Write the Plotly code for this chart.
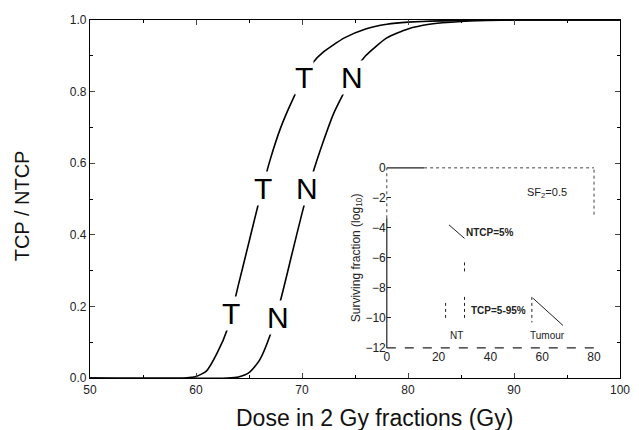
import plotly.graph_objects as go

# ---- main chart data ----
dose_T = [50, 59, 60, 61, 62, 63, 64, 65, 66, 67, 68, 69, 70, 71, 72, 74, 76, 78, 80, 85, 90, 100]
tcp_T = [0, 0.0, 0.004, 0.02, 0.07, 0.14, 0.26, 0.38, 0.50, 0.61, 0.70, 0.77, 0.83, 0.88, 0.91, 0.95, 0.975, 0.988, 0.994, 0.999, 1.0, 1.0]

dose_N = [50, 63, 64, 65, 66, 67, 68, 69, 70, 71, 72, 73, 74, 75, 76, 78, 80, 82, 85, 90, 100]
ntcp_N = [0, 0.0, 0.003, 0.015, 0.05, 0.12, 0.22, 0.34, 0.46, 0.57, 0.66, 0.74, 0.80, 0.86, 0.90, 0.95, 0.975, 0.988, 0.996, 1.0, 1.0]

label_T_x = [63.3, 66.3, 70.2]
label_T_y = [0.18, 0.53, 0.84]
label_N_x = [67.7, 70.5, 74.7]
label_N_y = [0.17, 0.53, 0.84]

x_ticks = [50, 60, 70, 80, 90, 100]
y_ticks = [0.0, 0.2, 0.4, 0.6, 0.8, 1.0]

x_title = "Dose in 2 Gy fractions (Gy)"
y_title = "TCP / NTCP"

# ---- inset data ----
inset_x_ticks = [0, 20, 40, 60, 80]
inset_y_ticks = [0, -2, -4, -6, -8, -10, -12]
ntcp_seg_x = [24.0, 30.0]
ntcp_seg_y = [-3.8, -4.7]
nt_dot1_x = [30, 30]
nt_dot1_y = [-6.3, -7.0]
nt_dot2_x = [30, 30]
nt_dot2_y = [-8.6, -10.1]
nt_dot3_x = [22.7, 22.7]
nt_dot3_y = [-9.0, -10.2]
tum_dot_x = [56, 56]
tum_dot_y = [-8.6, -10.3]
tum_seg_x = [56.5, 68]
tum_seg_y = [-8.7, -10.5]

FONT = "Liberation Sans, Arial, sans-serif"

fig = go.Figure()
fig.add_trace(go.Scatter(x=dose_T, y=tcp_T, mode="lines",
                         line=dict(color="black", width=1.6, shape="spline", smoothing=0.6),
                         showlegend=False, hoverinfo="skip"))
fig.add_trace(go.Scatter(x=dose_N, y=ntcp_N, mode="lines",
                         line=dict(color="black", width=1.6, shape="spline", smoothing=0.6),
                         showlegend=False, hoverinfo="skip"))

# inset marks
def seg(x, y, dash, width=1):
    fig.add_trace(go.Scatter(x=x, y=y, xaxis="x2", yaxis="y2", mode="lines",
                             line=dict(color="#222", width=width, dash=dash),
                             showlegend=False, hoverinfo="skip"))

seg(ntcp_seg_x, ntcp_seg_y, "solid")
seg(nt_dot1_x, nt_dot1_y, "dot")
seg(nt_dot2_x, nt_dot2_y, "dot")
seg(nt_dot3_x, nt_dot3_y, "dot")
seg(tum_dot_x, tum_dot_y, "dot")
seg(tum_seg_x, tum_seg_y, "solid")

annotations = []
for x, y in zip(label_T_x, label_T_y):
    annotations.append(dict(x=x, y=y, xref="x", yref="y", text="T", showarrow=False,
                            font=dict(family=FONT, size=30, color="black"),
                            bgcolor="white", borderpad=0))
for x, y in zip(label_N_x, label_N_y):
    annotations.append(dict(x=x, y=y, xref="x", yref="y", text="N", showarrow=False,
                            font=dict(family=FONT, size=30, color="black"),
                            bgcolor="white", borderpad=0))

inset_texts = [
    (62, -1.7, "SF<sub>2</sub>=0.5", 11),
    (40, -4.3, "<b>NTCP=5%</b>", 10),
    (43, -9.5, "<b>TCP=5-95%</b>", 10),
    (27, -11.2, "NT", 10),
    (62, -11.2, "Tumour", 10),
]
for x, y, t, s in inset_texts:
    annotations.append(dict(x=x, y=y, xref="x2", yref="y2", text=t, showarrow=False,
                            font=dict(family=FONT, size=s, color="#222")))

# axis titles placed as annotations (reference has them off-centre)
annotations.append(dict(x=0.5376, y=-0.113, xref="paper", yref="paper", text=x_title,
                        showarrow=False, xanchor="center", yanchor="middle",
                        font=dict(family=FONT, size=23, color="#111")))
annotations.append(dict(x=-0.128, y=0.48, xref="paper", yref="paper", text=y_title,
                        showarrow=False, xanchor="center", yanchor="middle", textangle=-90,
                        font=dict(family=FONT, size=20, color="#111")))

shapes = [
    # inset frame pieces
    dict(type="line", xref="x2 domain", yref="y2 domain", x0=0, x1=0.18, y0=1, y1=1,
         line=dict(color="#222", width=1.2)),
    dict(type="line", xref="x2 domain", yref="y2 domain", x0=0.18, x1=1, y0=1, y1=1,
         line=dict(color="#444", width=1, dash="dot")),
    dict(type="line", xref="x2 domain", yref="y2 domain", x0=0, x1=0, y0=0, y1=0.72,
         line=dict(color="#222", width=1.2)),
    dict(type="line", xref="x2 domain", yref="y2 domain", x0=0, x1=0, y0=0.72, y1=1,
         line=dict(color="#444", width=1, dash="dot")),
    dict(type="line", xref="x2 domain", yref="y2 domain", x0=0, x1=1, y0=0, y1=0,
         line=dict(color="#222", width=1.2, dash="dash")),
    dict(type="line", xref="x2 domain", yref="y2 domain", x0=1, x1=1, y0=0.74, y1=1,
         line=dict(color="#444", width=1, dash="dot")),
]

fig.update_layout(
    width=639, height=430,
    margin=dict(l=90, r=17, t=20, b=52),
    paper_bgcolor="white", plot_bgcolor="white",
    font=dict(family=FONT, color="#222"),
    showlegend=False,
    xaxis=dict(range=[50, 100], tickvals=x_ticks, ticks="inside", ticklen=5,
               minor=dict(dtick=5, ticks="inside", ticklen=3, tickcolor="black"),
               showline=True, linecolor="black", linewidth=1.2, mirror="ticks",
               showgrid=False, zeroline=False, tickfont=dict(size=12, color="#222"),
               automargin=False),
    yaxis=dict(range=[0, 1], tickvals=y_ticks, tickformat=".1f", ticks="inside", ticklen=5,
               minor=dict(dtick=0.1, ticks="inside", ticklen=3, tickcolor="black"),
               showline=True, linecolor="black", linewidth=1.2, mirror="ticks",
               showgrid=False, zeroline=False, tickfont=dict(size=12, color="#222"),
               automargin=False),
    xaxis2=dict(domain=[0.560, 0.951], anchor="y2", range=[0, 80], tickvals=inset_x_ticks,
                ticks="", showline=False, showgrid=False, zeroline=False,
                tickfont=dict(size=12, color="#222")),
    yaxis2=dict(domain=[0.084, 0.587], anchor="x2", range=[-12, 0], tickvals=inset_y_ticks,
                ticks="inside", ticklen=4, tickcolor="#222", showline=False, showgrid=False,
                zeroline=False, tickfont=dict(size=12, color="#222"),
                title=dict(text="Surviving fraction (log<sub>10</sub>)", font=dict(size=12, color="#222"),
                           standoff=2)),
    annotations=annotations,
    shapes=shapes,
)

fig.write_html("out.html")
